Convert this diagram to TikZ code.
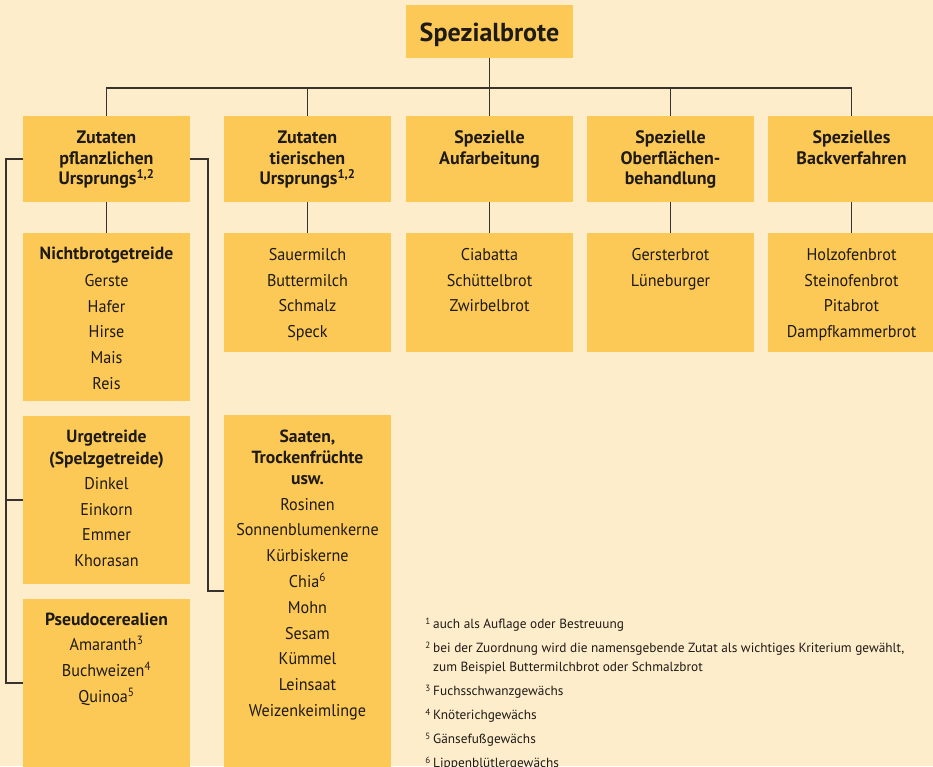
\documentclass[tikz,border=0pt]{standalone}
\usepackage{fontspec}
\setmainfont{PT Sans}[FakeStretch=0.95]
\newfontfamily\hdfont{PT Sans}
\newfontfamily\fnfont{PT Sans}
\definecolor{bgc}{RGB}{254,237,203}
\definecolor{boxc}{RGB}{252,200,86}
\definecolor{lnc}{RGB}{55,50,45}
\definecolor{txc}{RGB}{30,26,22}
\newcommand{\fst}[1]{\rule{0pt}{#1}}
\newcommand{\hb}[1]{{\hdfont\bfseries\fontsize{17.6}{25.8}\selectfont #1}}
\newcommand{\fnm}[1]{\llap{\raisebox{4.5pt}{\fontsize{9}{9}\selectfont #1}\hspace{3pt}}}
\begin{document}
\begin{tikzpicture}[x=1pt,y=-1pt,
  box/.style={fill=boxc, draw=none, anchor=north west, inner sep=0pt, outer sep=0pt, minimum width=167pt},
  conn/.style={draw=lnc, line width=1.2pt},
  hd/.style={anchor=north, inner sep=0pt, align=center, text=txc, font=\hdfont\bfseries\fontsize{18}{20.7}\selectfont},
  it/.style={anchor=north, inner sep=0pt, align=center, text=txc, font=\fontsize{17}{25.8}\selectfont},
  fn/.style={anchor=north west, inner sep=0pt, align=left, text=txc, font=\fnfont\fontsize{13.3}{19}\selectfont}]
\useasboundingbox (0,0) rectangle (933,766);
\clip (0,0) rectangle (933,766);
\fill[bgc] (0,0) rectangle (933,766);

% top
\node[box, minimum height=53pt] (top) at (406,5) {};
\node[anchor=base, inner sep=0pt, text=txc, font=\hdfont\bfseries\fontsize{26}{30}\selectfont] (toptx) at (489.5,41) {Spezialbrote};

% level 1
\node[box, minimum height=86pt] (c1) at (23,116) {};
\node[box, minimum height=86pt] (c2) at (224,116) {};
\node[box, minimum height=86pt] (c3) at (406,116) {};
\node[box, minimum height=86pt] (c4) at (587,116) {};
\node[box, minimum height=86pt] (c5) at (768,116) {};

\node[hd] (c1t) at (106.5,123.3) {\fst{20pt}Zutaten\\pflanzlichen\\Ursprungs\textsuperscript{1,2}};
\node[hd] (c2t) at (307.5,123.3) {\fst{20pt}Zutaten\\tierischen\\Ursprungs\textsuperscript{1,2}};
\node[hd] (c3t) at (489.5,123.3) {\fst{20pt}Spezielle\\Aufarbeitung};
\node[hd] (c4t) at (670.5,123.3) {\fst{20pt}Spezielle\\Oberflächen-\\behandlung};
\node[hd] (c5t) at (851.5,123.3) {\fst{20pt}Spezielles\\Backverfahren};

% level 2
\node[box, minimum height=168pt] (n1) at (23,233) {};
\node[box, minimum height=168pt] (u1) at (23,416) {};
\node[box, minimum height=168pt] (p1) at (23,599) {};
\node[box, minimum height=119pt] (t2) at (224,233) {};
\node[box, minimum height=352pt] (s2) at (224,415) {};
\node[box, minimum height=119pt] (a3) at (406,233) {};
\node[box, minimum height=119pt] (o4) at (587,233) {};
\node[box, minimum height=119pt] (b5) at (768,233) {};

\node[it] (n1t) at (106.5,239.5) {\fst{20pt}\hb{Nichtbrotgetreide}\\[0.7pt]Gerste\\Hafer\\Hirse\\Mais\\Reis};
\node[it] (u1t) at (106.5,422) {\fst{20pt}\hb{Urgetreide}\\[-4pt]\hb{(Spelzgetreide)}\\[-0.5pt]Dinkel\\Einkorn\\Emmer\\Khorasan};
\node[it] (p1t) at (106.5,605.3) {\fst{20pt}\hb{Pseudocerealien}\\[-0.4pt]Amaranth\textsuperscript{3}\\Buchweizen\textsuperscript{4}\\Quinoa\textsuperscript{5}};
\node[it] (t2t) at (307.5,240) {\fst{20pt}Sauermilch\\Buttermilch\\Schmalz\\Speck};
\node[it] (s2t) at (307.5,422) {\fst{20pt}\hb{Saaten,}\\[-5pt]\hb{Trockenfrüchte}\\[-4.2pt]\hb{usw.}\\[-0.4pt]Rosinen\\Sonnenblumenkerne\\Kürbiskerne\\Chia\textsuperscript{6}\\Mohn\\Sesam\\Kümmel\\Leinsaat\\Weizenkeimlinge};
\node[it] (a3t) at (489.5,240) {\fst{20pt}Ciabatta\\Schüttelbrot\\Zwirbelbrot};
\node[it] (o4t) at (670.5,240) {\fst{20pt}Gersterbrot\\Lüneburger};
\node[it] (b5t) at (851.5,240) {\fst{20pt}Holzofenbrot\\Steinofenbrot\\Pitabrot\\Dampfkammerbrot};

% connectors
\coordinate (bus) at (0,88);
\draw[conn] (top.south) -- (top.south |- bus);
\draw[conn] (c1.north) -- (c1.north |- bus) -- (c5.north |- bus) -- (c5.north);
\draw[conn] (c2.north) -- (c2.north |- bus);
\draw[conn] (c3.north) -- (c3.north |- bus);
\draw[conn] (c4.north) -- (c4.north |- bus);
\draw[conn] (c1.south) -- (n1.north);
\draw[conn] (c2.south) -- (t2.north);
\draw[conn] (c3.south) -- (a3.north);
\draw[conn] (c4.south) -- (o4.north);
\draw[conn] (c5.south) -- (b5.north);
\coordinate (lb) at (6,0);
\coordinate (rb) at (208,0);
\draw[conn] (c1.west) -| (lb |- p1.west) -- (p1.west);
\draw[conn] (lb |- u1.west) -- (u1.west);
\draw[conn] (c1.east) -| (rb |- s2.west) -- (s2.west);

% footnotes
\node[fn] (fns) at (433,616.5) {\fst{12pt}\fnm{1}auch als Auflage oder Bestreuung\\[5pt]
\fnm{2}bei der Zuordnung wird die namensgebende Zutat als wichtiges Kriterium gewählt,\\
zum Beispiel Buttermilchbrot oder Schmalzbrot\\[5pt]
\fnm{3}Fuchsschwanzgewächs\\[5pt]
\fnm{4}Knöterichgewächs\\[5pt]
\fnm{5}Gänsefußgewächs\\[5pt]
\fnm{6}Lippenblütlergewächs};
\end{tikzpicture}
\end{document}
